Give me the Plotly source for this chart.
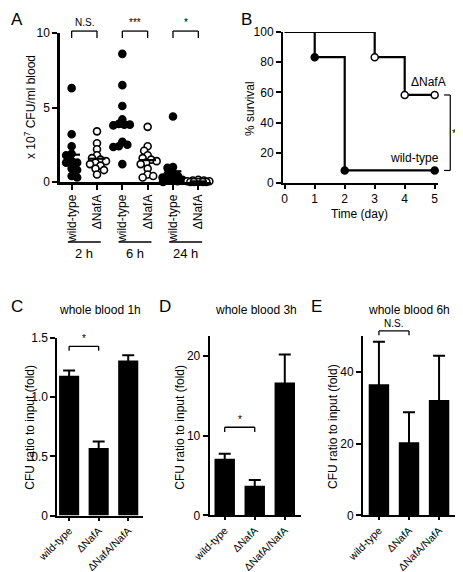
import numpy as np
import plotly.graph_objects as go

W, H = 463, 572
FONT = "Liberation Sans, Arial, Helvetica, sans-serif"

# ---------------- data ----------------
# Panel A: CFU (x10^7 / ml blood)
a_time_labels = ["2 h", "6 h", "24 h"]
a_strain_labels = ["wild-type", "ΔNafA", "wild-type", "ΔNafA", "wild-type", "ΔNafA"]
a_wt_2h = [6.3, 3.2, 2.4, 1.9, 1.8, 1.4, 1.3, 1.3, 0.9, 0.8, 0.4, 0.3]
a_mut_2h = [3.4, 2.6, 2.2, 1.8, 1.6, 1.5, 1.4, 1.3, 1.2, 1.1, 0.9, 0.8, 0.5]
a_wt_6h = [8.6, 6.5, 5.1, 4.2, 3.9, 3.85, 3.85, 3.8, 2.7, 2.5, 2.4, 2.35, 1.2]
a_mut_6h = [3.7, 2.4, 2.1, 1.8, 1.6, 1.5, 1.4, 1.3, 1.2, 0.9, 0.5, 0.4, 0.3]
a_wt_24h = [4.4, 1.0, 0.95, 0.6, 0.5, 0.4, 0.3, 0.2, 0.15, 0.1, 0.05, 0.0]
a_mut_24h = [0.15, 0.1, 0.1, 0.05, 0.05, 0.03, 0.02, 0.01, 0.0, 0.0, 0.0, 0.0]
a_series = [a_wt_2h, a_mut_2h, a_wt_6h, a_mut_6h, a_wt_24h, a_mut_24h]
a_sig = ["N.S.", "***", "*"]

# Panel B: survival
b_days_wt = [0, 1, 2, 5]
b_surv_wt = [100, 83.3, 8.3, 8.3]
b_days_mut = [0, 3, 4, 5]
b_surv_mut = [100, 83.3, 58.3, 58.3]
b_sig = "***"

# Panels C-E: whole blood
bar_labels = ["wild-type", "ΔNafA", "ΔNafA/NafA"]
c_vals = [1.18, 0.57, 1.31]
c_err = [0.045, 0.055, 0.045]
d_vals = [7.1, 3.7, 16.7]
d_err = [0.65, 0.75, 3.5]
e_vals = [36.6, 20.4, 32.2]
e_err = [11.9, 8.4, 12.4]
c_ticks = [0, 0.5, 1.0, 1.5]
c_ticktext = ["0", "0.5", "1.0", "1.5"]
d_ticks = [0, 10, 20]
e_ticks = [0, 20, 40]


def fx(px):
    return px / W


def fy(py):
    return 1 - py / H


fig = go.Figure()

# ---------------- Panel A ----------------
A_X0, A_X1, A_Y0, A_Y1 = 52, 203, 174, 25
A_XR = [-0.46, 5.5]
A_YR = [0, 10]
px_per_x = (A_X1 - A_X0) / (A_XR[1] - A_XR[0])
px_per_y = (A_Y0 - A_Y1) / (A_YR[1] - A_YR[0])


def swarm(vals, diam=5.5, maxoff=11.0):
    order = sorted(range(len(vals)), key=lambda i: -vals[i])
    placed = []
    offs = [0.0] * len(vals)
    for n, i in enumerate(order):
        yp = vals[i] * px_per_y
        cands = [0.0]
        s = 0.5
        while s <= maxoff:
            if n % 2:
                cands += [s, -s]
            else:
                cands += [-s, s]
            s += 0.5
        best = None
        for o in cands:
            if all((o - ox) ** 2 + (yp - oy) ** 2 >= diam ** 2 for ox, oy in placed):
                best = o
                break
        if best is None:
            best = max(cands, key=lambda o: min(((o - ox) ** 2 + (yp - oy) ** 2) for ox, oy in placed))
        placed.append((best, yp))
        offs[i] = best / px_per_x
    return offs


for k, vals in enumerate(a_series):
    offs = swarm(vals)
    xs = [k + o for o in offs]
    filled = (k % 2 == 0)
    fig.add_trace(go.Scatter(
        x=xs, y=vals, mode="markers", xaxis="x", yaxis="y", cliponaxis=False,
        marker=dict(symbol="circle", size=7,
                    color="black" if filled else "white",
                    line=dict(color="black", width=1.6)),
        showlegend=False, hoverinfo="skip"))
for k, vals in enumerate(a_series):
    m = float(np.mean(vals))
    fig.add_trace(go.Scatter(
        x=[k - 0.33, k + 0.33], y=[m, m], mode="lines", xaxis="x", yaxis="y",
        line=dict(color="black", width=2.2), showlegend=False, hoverinfo="skip"))

shapes = []
annotations = []


def line(x0, y0, x1, y1, xref, yref, w=1.3):
    shapes.append(dict(type="line", x0=x0, y0=y0, x1=x1, y1=y1, xref=xref, yref=yref,
                       line=dict(color="black", width=w)))


def text(t, x, y, xref="paper", yref="paper", size=12, xanchor="center", yanchor="middle", angle=0):
    annotations.append(dict(text=t, x=x, y=y, xref=xref, yref=yref, showarrow=False,
                            font=dict(family=FONT, size=size, color="black"),
                            xanchor=xanchor, yanchor=yanchor, textangle=angle))


# A significance brackets
for g, s in enumerate(a_sig):
    x0, x1 = 2 * g, 2 * g + 1
    top, leg = 1.013, 0.966
    line(x0, top, x1, top, "x", "y domain")
    line(x0, top, x0, leg, "x", "y domain")
    line(x1, top, x1, leg, "x", "y domain")
    text(s, (x0 + x1) / 2, top + 0.005, "x", "y domain", size=10, yanchor="bottom")

# A group lines & labels
for g, lab in enumerate(a_time_labels):
    xc = 2 * g + 0.5
    line(xc - 0.65, fy(234), xc + 0.65, fy(234), "x", "paper", w=1.5)
    text(lab, xc, fy(245), "x", "paper", size=13)

text("x 10<sup>7</sup> CFU/ml blood", fx(22), fy(99), size=12, angle=-90)

# ---------------- Panel B ----------------
fig.add_trace(go.Scatter(x=b_days_wt, y=b_surv_wt, mode="lines", line=dict(shape="hv", color="black", width=2.2),
                         xaxis="x2", yaxis="y2", showlegend=False, hoverinfo="skip"))
fig.add_trace(go.Scatter(x=b_days_mut, y=b_surv_mut, mode="lines", line=dict(shape="hv", color="black", width=2.2),
                         xaxis="x2", yaxis="y2", showlegend=False, hoverinfo="skip"))
fig.add_trace(go.Scatter(x=b_days_wt[1:], y=b_surv_wt[1:], mode="markers", cliponaxis=False,
                         marker=dict(symbol="circle", size=7, color="black", line=dict(color="black", width=1.5)),
                         xaxis="x2", yaxis="y2", showlegend=False, hoverinfo="skip"))
fig.add_trace(go.Scatter(x=b_days_mut[1:], y=b_surv_mut[1:], mode="markers", cliponaxis=False,
                         marker=dict(symbol="circle", size=7, color="white", line=dict(color="black", width=1.5)),
                         xaxis="x2", yaxis="y2", showlegend=False, hoverinfo="skip"))
text("ΔNafA", 4.78, 67, "x2", "y2", size=12)
text("wild-type", 4.31, 16.5, "x2", "y2", size=12)
yb0, yb1 = b_surv_wt[-1], b_surv_mut[-1]
line(1.079, yb0, 1.079, yb1, "x2 domain", "y2", w=1.2)
line(1.039, yb0, 1.079, yb0, "x2 domain", "y2", w=1.2)
line(1.039, yb1, 1.079, yb1, "x2 domain", "y2", w=1.2)
text(b_sig, fx(450.5), (yb0 + yb1) / 2, "paper", "y2", size=11, xanchor="center")
text("% survival", fx(242), fy(100), size=12, angle=-90)
text("Time (day)", fx(351.5), fy(206), size=12)

# ---------------- Panels C-E ----------------
panels = [
    ("x3", "y3", c_vals, c_err, "whole blood 1h", (49.3, 135, 507.5, 330), [-0.4, 2.5], [0, 1.5],
     21.7, "*", 1.43, 1.393, False),
    ("x4", "y4", d_vals, d_err, "whole blood 3h", (201.7, 293.3, 507.3, 328.3), [-0.5, 2.55], [0, 22.5],
     171.7, "*", 11.07, 10.48, False),
    ("x5", "y5", e_vals, e_err, "whole blood 6h", (355, 446.7, 507.3, 328.3), [-0.53, 2.52], [0, 50],
     325, "N.S.", 1.03, 1.006, True),
]
for xa, ya, vals, err, title, dom, xr, yr, ytx, sig, top, leg, dom_ref in panels:
    fig.add_trace(go.Bar(x=[0, 1, 2], y=vals, width=0.68, xaxis=xa, yaxis=ya,
                         marker=dict(color="black", line=dict(width=0)),
                         error_y=dict(type="data", array=err, visible=True, color="black", thickness=2, width=6),
                         showlegend=False, hoverinfo="skip"))
    cx = (dom[0] + dom[1]) / 2
    text(title, fx(cx), fy(302), size=12)
    text("CFU ratio to input (fold)", fx(ytx), fy(419), size=12, angle=-90)
    yref = (ya + " domain") if dom_ref else ya
    line(0, top, 1, top, xa, yref)
    line(0, top, 0, leg, xa, yref)
    line(1, top, 1, leg, xa, yref)
    text(sig, 0.5, top, xa, yref, size=10, yanchor="bottom")

# panel letters
for lab, x, y in [("A", 9, 12), ("B", 238, 12), ("C", 9, 298), ("D", 157, 298), ("E", 308, 298)]:
    text(lab, fx(x), fy(y), size=17)

axis_common = dict(showline=True, linecolor="black", ticks="outside", tickcolor="black",
                   showgrid=False, zeroline=False, mirror=False, fixedrange=True, automargin=False,
                   tickfont=dict(family=FONT, size=12, color="black"))

layout = dict(
    template="none",
    width=W, height=H, margin=dict(l=0, r=0, t=0, b=0, pad=0, autoexpand=False),
    paper_bgcolor="white", plot_bgcolor="white", showlegend=False,
    font=dict(family=FONT, size=12, color="black"),
    xaxis=dict(axis_common, domain=[fx(A_X0), fx(A_X1)], range=A_XR, anchor="y",
               tickvals=list(range(6)), ticktext=a_strain_labels, tickangle=-90,
               linewidth=2.5, tickwidth=2, ticklen=5),
    yaxis=dict(axis_common, domain=[fy(A_Y0), fy(A_Y1)], range=A_YR, anchor="x",
               tickvals=[0, 5, 10], linewidth=2.5, tickwidth=2, ticklen=5),
    xaxis2=dict(axis_common, domain=[fx(275), fx(430)], range=[-0.057, 5.11], anchor="y2",
                tickvals=[0, 1, 2, 3, 4, 5], linewidth=2, tickwidth=2, ticklen=4),
    yaxis2=dict(axis_common, domain=[fy(175), fy(24)], range=[0, 100], anchor="x2",
                tickvals=[0, 20, 40, 60, 80, 100], linewidth=2, tickwidth=2, ticklen=5),
)
for i, (xa, ya, vals, err, title, dom, xr, yr, ytx, sig, top, leg, dom_ref) in enumerate(panels):
    n = i + 3
    if n == 3:
        tv, tt = c_ticks, c_ticktext
    elif n == 4:
        tv, tt = d_ticks, [str(v) for v in d_ticks]
    else:
        tv, tt = e_ticks, [str(v) for v in e_ticks]
    xcommon = dict(axis_common)
    xcommon["tickfont"] = dict(family=FONT, size=10.5, color="black")
    layout["xaxis%d" % n] = dict(xcommon, domain=[fx(dom[0]), fx(dom[1])], range=xr, anchor="y%d" % n,
                                 tickvals=[0, 1, 2], ticktext=bar_labels, tickangle=-45,
                                 linewidth=2, tickwidth=2, ticklen=3)
    layout["yaxis%d" % n] = dict(axis_common, domain=[fy(dom[2]), fy(dom[3])], range=yr, anchor="x%d" % n,
                                 tickvals=tv, ticktext=tt, linewidth=2, tickwidth=2, ticklen=5)

layout["shapes"] = shapes
layout["annotations"] = annotations
fig.update_layout(**layout)
fig.write_html("out.html")
